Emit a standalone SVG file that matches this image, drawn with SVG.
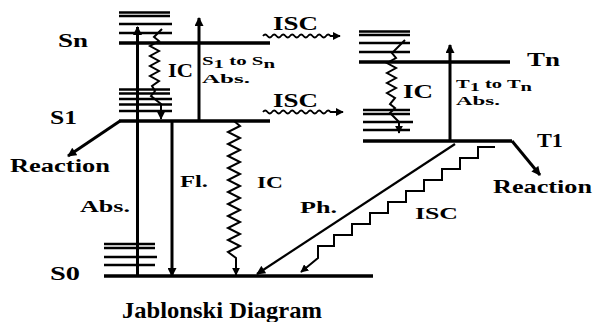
<svg xmlns="http://www.w3.org/2000/svg" width="594" height="322" viewBox="0 0 594 322">
<style>
.lv{stroke:#000;stroke-width:3.5;fill:none}
.st{stroke:#000;stroke-width:2.5;fill:none}
.ar{stroke:#000;stroke-width:3;fill:none;marker-end:url(#ah)}
.th{stroke:#000;stroke-width:2.2;fill:none;marker-end:url(#ah)}
.wv{stroke:#000;stroke-width:1.8;fill:none;marker-end:url(#ahs)}
.zz{stroke:#000;stroke-width:2;fill:none;stroke-linejoin:miter;marker-end:url(#ahs)}
</style>
<defs>
<marker id="ah" viewBox="0 0 10 10" refX="9" refY="5" markerWidth="10" markerHeight="9" markerUnits="userSpaceOnUse" orient="auto"><path d="M0,0 L10,5 L0,10 z" fill="#000"/></marker>
<marker id="ahs" viewBox="0 0 10 10" refX="9" refY="5" markerWidth="8" markerHeight="8" markerUnits="userSpaceOnUse" orient="auto"><path d="M0,0 L10,5 L0,10 z" fill="#000"/></marker>
</defs>
<rect width="594" height="322" fill="#fff"/>

<g font-family="Liberation Serif, Times New Roman, serif" font-weight="bold" fill="#000">
<g id="Sn">
<line class="st" x1="119" y1="12.5" x2="170" y2="12.5"/>
<line class="st" x1="119" y1="16" x2="170" y2="16"/>
<line class="st" x1="119" y1="24" x2="172" y2="24"/>
<line class="st" x1="119" y1="33" x2="172" y2="33"/>
<line class="lv" x1="119" y1="43" x2="270" y2="43"/>
<text x="58" y="47" font-size="19" textLength="30" lengthAdjust="spacingAndGlyphs">Sn</text>
</g>
<g id="S1">
<line class="st" x1="119" y1="89.5" x2="170" y2="89.5"/>
<line class="st" x1="119" y1="93.5" x2="170" y2="93.5"/>
<line class="st" x1="119" y1="99" x2="172" y2="99"/>
<line class="st" x1="119" y1="104.5" x2="172" y2="104.5"/>
<line class="st" x1="119" y1="111" x2="172" y2="111"/>
<line class="lv" x1="119" y1="121" x2="270" y2="121"/>
<text x="50" y="124" font-size="19" textLength="27" lengthAdjust="spacingAndGlyphs">S1</text>
</g>
<g id="S0">
<line class="st" x1="104" y1="244" x2="155" y2="244"/>
<line class="st" x1="104" y1="248" x2="155" y2="248"/>
<line class="st" x1="104" y1="257" x2="157" y2="257"/>
<line class="st" x1="104" y1="265" x2="155" y2="265"/>
<line class="lv" x1="104" y1="276" x2="373" y2="276"/>
<text x="50" y="280" font-size="19" textLength="30" lengthAdjust="spacingAndGlyphs">S0</text>
</g>
<g id="Tn">
<line class="st" x1="359" y1="31.5" x2="410" y2="31.5"/>
<line class="st" x1="359" y1="35" x2="410" y2="35"/>
<line class="st" x1="359" y1="43" x2="410" y2="43"/>
<line class="st" x1="359" y1="52" x2="410" y2="52"/>
<line class="lv" x1="359" y1="62" x2="510" y2="62"/>
<text x="527" y="66" font-size="19" textLength="33" lengthAdjust="spacingAndGlyphs">Tn</text>
</g>
<g id="T1">
<line class="st" x1="363" y1="110" x2="410" y2="110"/>
<line class="st" x1="363" y1="114" x2="410" y2="114"/>
<line class="st" x1="363" y1="122" x2="413" y2="122"/>
<line class="st" x1="363" y1="130" x2="410" y2="130"/>
<line class="lv" x1="363" y1="141" x2="512" y2="141"/>
<text x="537" y="147" font-size="19" textLength="26" lengthAdjust="spacingAndGlyphs">T1</text>
</g>

<g id="connectors">
<line class="ar" x1="137.5" y1="276" x2="137.5" y2="27"/>
<line class="ar" x1="199" y1="121" x2="199" y2="18"/>
<line class="ar" x1="450" y1="141" x2="450" y2="45"/>
<line class="ar" x1="172" y1="121" x2="172" y2="276"/>
<line class="ar" x1="120" y1="121" x2="68" y2="156"/>
<line class="ar" x1="512" y1="141" x2="540" y2="175"/>
<line class="th" x1="455" y1="144" x2="257" y2="274"/>
<path class="zz" d="M495,147 H478 V158 H460 V169 H442 V180 H424 V191 H406 V202 H388 V213 H370 V224 H352 V235 H334 V246 H318 V258 L301,272"/>
<path class="zz" d="M162,29 L154,37 L159,41 L150,46 L159,51 L150,56 L159,61 L150,66 L159,71 L150,76 L159,81 L152,86 L155,91 L151,96 L161,104 L161,119"/>
<path class="zz" d="M234,121 L240,126 L228,132 L240,138 L228,144 L240,150 L228,156 L240,162 L228,168 L240,174 L228,180 L240,186 L228,192 L240,198 L228,204 L240,210 L228,216 L240,222 L228,228 L240,234 L228,240 L240,246 L228,252 L236,258 L236,275"/>
<path class="zz" d="M405,40 L392,53 L396,58 L387,63 L396,68 L387,73 L396,78 L387,83 L396,88 L387,93 L395,98 L390,104 L395,108 L390,113 L399,122 L399,133"/>
<path class="wv" d="M263,36 q2.25,-3 4.5,0 t4.5,0 t4.5,0 t4.5,0 t4.5,0 t4.5,0 t4.5,0 t4.5,0 t4.5,0 t4.5,0 t4.5,0 t4.5,0 t4.5,0 t4.5,0 t4.5,0 L340,36"/>
<path class="wv" d="M263,112 q2.25,-3 4.5,0 t4.5,0 t4.5,0 t4.5,0 t4.5,0 t4.5,0 t4.5,0 t4.5,0 t4.5,0 t4.5,0 t4.5,0 t4.5,0 t4.5,0 t4.5,0 t4.5,0 L343,112"/>
</g>

<g id="labels">
<text x="168" y="77" font-size="18" textLength="25" lengthAdjust="spacingAndGlyphs">IC</text>
<text x="257" y="188" font-size="17" textLength="26" lengthAdjust="spacingAndGlyphs">IC</text>
<text x="403" y="98" font-size="18" textLength="30" lengthAdjust="spacingAndGlyphs">IC</text>
<text x="273" y="30" font-size="18" textLength="45" lengthAdjust="spacingAndGlyphs">ISC</text>
<text x="273" y="107" font-size="18" textLength="45" lengthAdjust="spacingAndGlyphs">ISC</text>
<text x="415" y="219" font-size="17" textLength="43" lengthAdjust="spacingAndGlyphs">ISC</text>
<text x="300" y="213" font-size="17" textLength="37" lengthAdjust="spacingAndGlyphs">Ph.</text>
<text x="180" y="187" font-size="17" textLength="28" lengthAdjust="spacingAndGlyphs">Fl.</text>
<text x="80" y="212" font-size="17" textLength="50" lengthAdjust="spacingAndGlyphs">Abs.</text>
<text x="10" y="172" font-size="18" textLength="100" lengthAdjust="spacingAndGlyphs">Reaction</text>
<text x="493" y="193" font-size="18" textLength="99" lengthAdjust="spacingAndGlyphs">Reaction</text>
<text x="202" y="65" font-size="13" textLength="73" lengthAdjust="spacingAndGlyphs">S<tspan dy="3">1</tspan><tspan dy="-3"> to S</tspan><tspan dy="3">n</tspan></text>
<text x="202" y="83" font-size="13" textLength="48" lengthAdjust="spacingAndGlyphs">Abs.</text>
<text x="456" y="88" font-size="13" textLength="76" lengthAdjust="spacingAndGlyphs">T<tspan dy="3">1</tspan><tspan dy="-3"> to T</tspan><tspan dy="3">n</tspan></text>
<text x="456" y="105" font-size="13" textLength="44" lengthAdjust="spacingAndGlyphs">Abs.</text>
<text x="122" y="318" font-size="24" textLength="200" lengthAdjust="spacingAndGlyphs">Jablonski Diagram</text>
</g>
</g>
</svg>
